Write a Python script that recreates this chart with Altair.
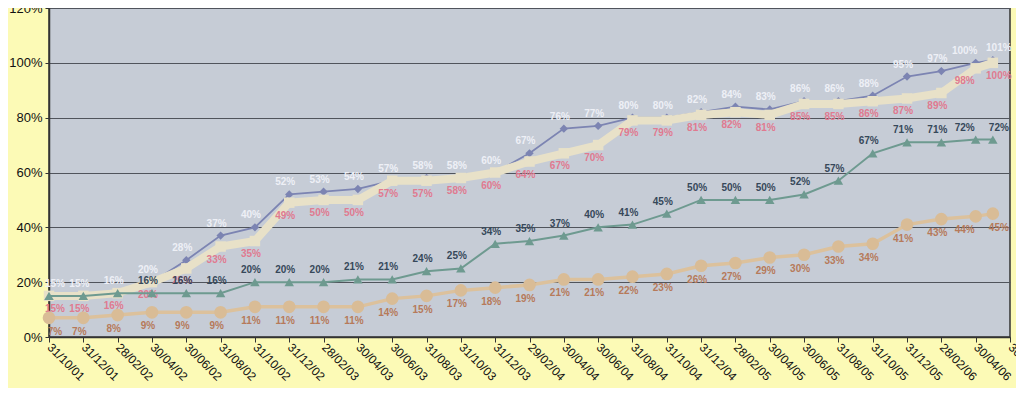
import altair as alt
import pandas as pd

# x-axis tick labels (every two months)
tick_labels = ["31/10/01", "31/12/01", "28/02/02", "30/04/02", "30/06/02", "31/08/02",
               "31/10/02", "31/12/02", "28/02/03", "30/04/03", "30/06/03", "31/08/03",
               "31/10/03", "31/12/03", "29/02/04", "30/04/04", "30/06/04", "31/08/04",
               "31/10/04", "31/12/04", "28/02/05", "30/04/05", "30/06/05", "31/08/05",
               "31/10/05", "31/12/05", "28/02/06", "30/04/06", "30/06/06"]

# dates of the data points
point_dates = tick_labels[:28] + ["31/05/06"]

# series values (%)
blue = [15, 15, 16, 20, 28, 37, 40, 52, 53, 54, 57, 58, 58, 60, 67, 76, 77, 80, 80, 82,
        84, 83, 86, 86, 88, 95, 97, 100, 101]
beige = [15, 15, 16, 20, 25, 33, 35, 49, 50, 50, 57, 57, 58, 60, 64, 67, 70, 79, 79, 81,
         82, 81, 85, 85, 86, 87, 89, 98, 100]
green = [15, 15, 16, 16, 16, 16, 20, 20, 20, 21, 21, 24, 25, 34, 35, 37, 40, 41, 45, 50,
         50, 50, 52, 57, 67, 71, 71, 72, 72]
orange = [7, 7, 8, 9, 9, 9, 11, 11, 11, 11, 14, 15, 17, 18, 19, 21, 21, 22, 23, 26,
          27, 29, 30, 33, 34, 41, 43, 44, 45]


def month_index(s):
    d, m, y = s.split("/")
    return (int(y) - 1) * 12 + int(m) - 10


tick_values = [month_index(t) for t in tick_labels]
x_pos = [month_index(t) for t in point_dates]
first_m = x_pos[0]
last_m = x_pos[-1]
prev_m = x_pos[-2]

label_expr = "[" + ",".join("'" + t + "'" for t in tick_labels) + "][round(datum.value/2)]"

x_enc = alt.X("m:Q", scale=alt.Scale(domain=[0, 56], nice=False, zero=False),
              axis=alt.Axis(values=tick_values, labelExpr=label_expr, labelAngle=45,
                            labelAlign="left", labelBaseline="middle", labelFontSize=12,
                            labelColor="#111", labelPadding=3, labelFont="Arial",
                            labelBound=False, labelOverlap=False, labelFlush=False,
                            grid=False, ticks=True, tickSize=5, tickColor="#333",
                            domainColor="#333", domainWidth=1.5, title=None))
y_enc = alt.Y("v:Q", scale=alt.Scale(domain=[0, 120], nice=False),
              axis=alt.Axis(values=[0, 20, 40, 60, 80, 100, 120], labelExpr="datum.value + '%'",
                            labelFontSize=13, labelFont="Arial", labelColor="#111",
                            labelOverlap=False, labelFlush=False,
                            grid=True, gridColor="#50545c", gridWidth=1, ticks=True,
                            tickSize=4, tickColor="#333", domainColor="#333",
                            domainWidth=1.5, labelPadding=3, title=None))


def series(vals, other=None):
    df = pd.DataFrame({"m": x_pos, "v": vals, "t": [f"{v}%" for v in vals]})
    # a label is hidden where another series has the same value (labels coincide)
    df["dup"] = [o == v for o, v in zip(other, vals)] if other else False
    return df


def layer_series(df, color, width, shape, size, pt_color, lbl_color, dy):
    base = alt.Chart(df).encode(x=x_enc, y=y_enc)
    line = base.mark_line(color=color, strokeWidth=width)
    pts = base.mark_point(shape=shape, size=size, filled=True, color=pt_color, opacity=1)
    out = [line, pts]
    groups = [(f"datum.m == {first_m}", 6),
              (f"datum.m > {first_m} && datum.m < {prev_m}", -4),
              (f"datum.m == {prev_m}", -11),
              (f"datum.m == {last_m}", 6)]
    for cond, dx in groups:
        out.append(base.mark_text(fontSize=10, fontWeight="bold", font="Arial",
                                  color=lbl_color, dy=dy, dx=dx)
                   .encode(text="t:N")
                   .transform_filter("!datum.dup")
                   .transform_filter(cond))
    return out


layers = []
layers += layer_series(series(blue), "#7C84B2", 1.8, "diamond", 70, "#7C84B2", "#EEF0F6", -12)
layers += layer_series(series(beige), "#E8E1C8", 8, "square", 110, "#E8E1C8", "#E07A90", 13)
layers += layer_series(series(green, blue), "#6E9A90", 2, "triangle-up", 90, "#6E9A90", "#36485A", -12)
layers += layer_series(series(orange), "#DCC19C", 3.5, "circle", 160, "#D9BC96", "#B67A5A", 14)

chart = alt.layer(*layers).properties(
    width=961, height=329,
    padding={"left": 41, "top": 0, "right": 6, "bottom": 51},
    autosize=alt.AutoSizeParams(type="none"),
    background="#FCFAB6",
).configure_view(fill="#C6CCD6", stroke="#333", strokeWidth=1.5)

chart.save("out.html", embed_options={"renderer": "svg", "actions": False})
